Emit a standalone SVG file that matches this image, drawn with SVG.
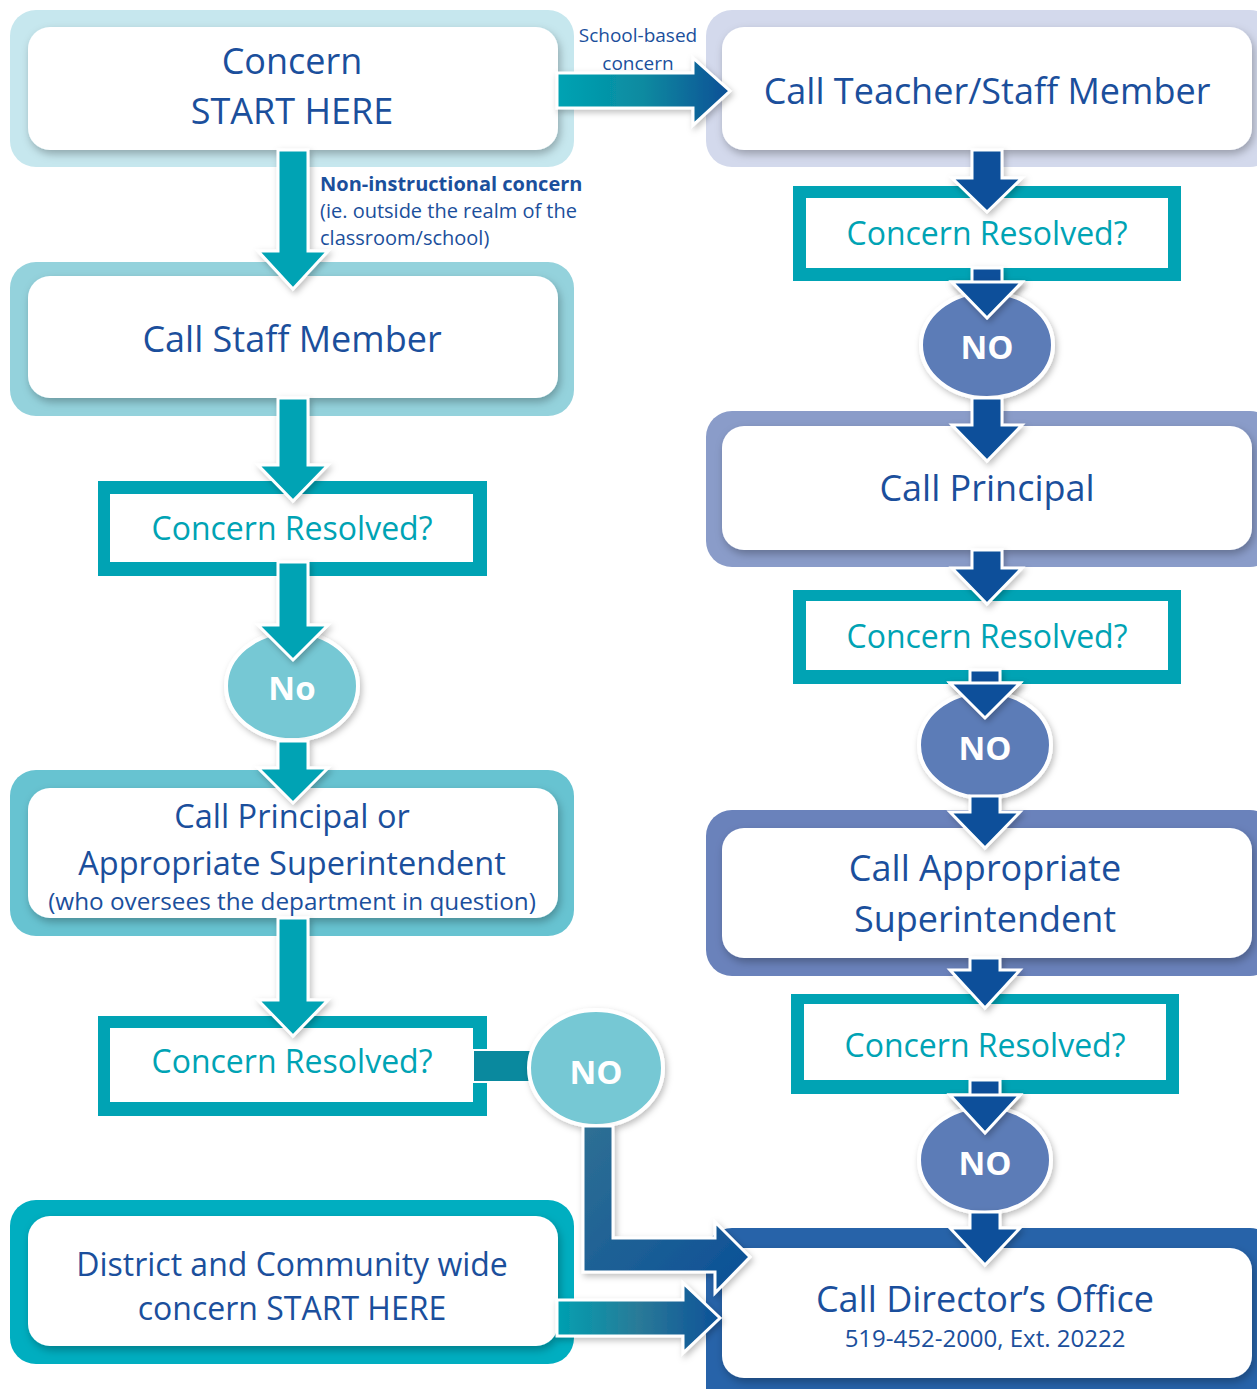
<svg xmlns="http://www.w3.org/2000/svg" width="1257" height="1389" viewBox="0 0 1257 1389">
<defs>
  <filter id="sh" x="-10%" y="-10%" width="130%" height="140%">
    <feDropShadow dx="2" dy="4" stdDeviation="4" flood-color="#000" flood-opacity="0.28"/>
  </filter>
  <filter id="sh2" x="-20%" y="-20%" width="150%" height="150%">
    <feDropShadow dx="2" dy="3" stdDeviation="3" flood-color="#000" flood-opacity="0.25"/>
  </filter>
  <linearGradient id="gTop" x1="557" y1="0" x2="730" y2="0" gradientUnits="userSpaceOnUse">
    <stop offset="0" stop-color="#00a3b3"/>
    <stop offset="0.5" stop-color="#0a8aa0"/>
    <stop offset="1" stop-color="#0b4f96"/>
  </linearGradient>
  <linearGradient id="gBot" x1="557" y1="0" x2="720" y2="0" gradientUnits="userSpaceOnUse">
    <stop offset="0" stop-color="#00a0b1"/>
    <stop offset="0.5" stop-color="#2a7a98"/>
    <stop offset="1" stop-color="#0c5198"/>
  </linearGradient>
  <linearGradient id="gElb" x1="583" y1="1125" x2="750" y2="1290" gradientUnits="userSpaceOnUse">
    <stop offset="0" stop-color="#2f7094"/>
    <stop offset="1" stop-color="#0a4f97"/>
  </linearGradient>
  <style>
    .main{font-family:"Open Sans","Noto Sans",sans-serif;font-size:36px;fill:#1b4f9c;text-anchor:middle}
    .q{font-family:"Open Sans","Noto Sans",sans-serif;font-size:32px;fill:#00a3b4;text-anchor:middle}
    .no{font-family:"Open Sans","Noto Sans",sans-serif;font-size:33px;font-weight:bold;fill:#fff;text-anchor:middle}
    .lbl{font-family:"Open Sans","Noto Sans",sans-serif;font-size:19px;fill:#1b4f9c}
    .inner{fill:#fff;filter:url(#sh)}
    .dq{fill:#00a3b4}
    .dqi{fill:#fff}
    .ell{stroke:#fff;stroke-width:4;filter:url(#sh2)}
    .arT{fill:#00a3b4;stroke:#fff;stroke-width:3;filter:url(#sh2)}
    .arB{fill:#08509a;stroke:#fff;stroke-width:3;filter:url(#sh2)}
  </style>
</defs>
<rect width="1257" height="1389" fill="#fff"/>

<g id="n_start">
  <rect x="10" y="10" width="564" height="157" rx="26" fill="#c6e7ee"/>
  <rect class="inner" x="28" y="27" width="530" height="123" rx="22"/>
  <text class="main" x="292" y="74">Concern</text>
  <text class="main" x="292" y="124">START HERE</text>
</g>

<g id="n_teacher">
  <rect x="706" y="10" width="570" height="157" rx="26" fill="#d3d9ec"/>
  <rect class="inner" x="722" y="27" width="530" height="123" rx="22"/>
  <text class="main" x="987" y="104">Call Teacher/Staff Member</text>
</g>

<g id="n_staff">
  <rect x="10" y="262" width="564" height="154" rx="26" fill="#94d2dc"/>
  <rect class="inner" x="28" y="276" width="530" height="122" rx="22"/>
  <text class="main" x="292" y="352">Call Staff Member</text>
</g>

<g id="d_left1">
  <rect class="dq" x="98" y="481" width="389" height="95"/>
  <rect class="dqi" x="110" y="494" width="363" height="68"/>
  <text class="q" x="292" y="540">Concern Resolved?</text>
</g>

<g id="no_left1">
  <ellipse class="ell" cx="292" cy="686" rx="66" ry="54" fill="#76c8d4"/>
  <text class="no" x="292" y="700">No</text>
</g>

<g id="n_principal_or_super">
  <rect x="10" y="770" width="564" height="166" rx="26" fill="#67c3d1"/>
  <rect class="inner" x="28" y="788" width="530" height="130" rx="22"/>
  <text class="main" x="292" y="828" style="font-size:32.5px">Call Principal or</text>
  <text class="main" x="292" y="875" style="font-size:32.5px">Appropriate Superintendent</text>
  <text class="main" x="292" y="910" style="font-size:24.3px">(who oversees the department in question)</text>
</g>

<g id="d_left2">
  <rect class="dq" x="98" y="1016" width="389" height="100"/>
  <rect class="dqi" x="110" y="1028" width="363" height="74"/>
  <text class="q" x="292" y="1073">Concern Resolved?</text>
</g>

<g id="n_district">
  <rect x="10" y="1200" width="564" height="164" rx="26" fill="#00aec0"/>
  <rect class="inner" x="28" y="1216" width="530" height="130" rx="22"/>
  <text class="main" x="292" y="1276" style="font-size:32px">District and Community wide</text>
  <text class="main" x="292" y="1320" style="font-size:32px">concern START HERE</text>
</g>

<g id="d_right1">
  <rect class="dq" x="793" y="186" width="388" height="95"/>
  <rect class="dqi" x="806" y="198" width="362" height="70"/>
  <text class="q" x="987" y="245">Concern Resolved?</text>
</g>

<g id="n_principal">
  <rect x="706" y="411" width="570" height="156" rx="26" fill="#8a9cc9"/>
  <rect class="inner" x="722" y="426" width="530" height="124" rx="22"/>
  <text class="main" x="987" y="501">Call Principal</text>
</g>

<g id="d_right2">
  <rect class="dq" x="793" y="590" width="388" height="94"/>
  <rect class="dqi" x="806" y="601" width="362" height="69"/>
  <text class="q" x="987" y="648">Concern Resolved?</text>
</g>

<g id="n_super">
  <rect x="706" y="810" width="570" height="166" rx="26" fill="#6a82bb"/>
  <rect class="inner" x="722" y="828" width="530" height="130" rx="22"/>
  <text class="main" x="985" y="881">Call Appropriate</text>
  <text class="main" x="985" y="932">Superintendent</text>
</g>

<g id="d_right3">
  <rect class="dq" x="791" y="994" width="388" height="100"/>
  <rect class="dqi" x="804" y="1004" width="362" height="76"/>
  <text class="q" x="985" y="1057">Concern Resolved?</text>
</g>

<g id="n_director">
  <rect x="706" y="1228" width="570" height="190" rx="26" fill="#2763a9"/>
  <rect class="inner" x="722" y="1248" width="530" height="130" rx="22"/>
  <text class="main" x="985" y="1312">Call Director’s Office</text>
  <text class="main" x="985" y="1347" style="font-size:24px">519-452-2000, Ext. 20222</text>
</g>

<g id="connectors">
  <!-- top horizontal: school-based -->
  <polygon points="557,73 693,73 693,58 730,91 693,125 693,108 557,108" fill="url(#gTop)" stroke="#fff" stroke-width="3" filter="url(#sh2)"/>
  <text class="lbl" x="638" y="42" text-anchor="middle">School-based</text>
  <text class="lbl" x="638" y="70" text-anchor="middle">concern</text>

  <!-- left column -->
  <polygon class="arT" points="278,150 308,150 308,251 328,251 293,289 258,251 278,251"/>
  <text class="lbl" x="320" y="191" style="font-weight:bold;font-size:20px">Non-instructional concern</text>
  <text class="lbl" x="320" y="218" style="font-size:20px">(ie. outside the realm of the</text>
  <text class="lbl" x="320" y="245" style="font-size:20px">classroom/school)</text>

  <polygon class="arT" points="278,398 308,398 308,465 328,465 293,501 258,465 278,465"/>
  <polygon class="arT" points="278,562 308,562 308,625 328,625 293,660 258,625 278,625"/>
  <polygon class="arT" points="278,741 308,741 308,768 328,768 293,803 258,768 278,768"/>
  <polygon class="arT" points="278,918 308,918 308,1000 328,1000 293,1036 258,1000 278,1000"/>

  <!-- decision 2 to NO -->
  <rect x="473" y="1050" width="64" height="32" fill="#0a899e" stroke="#fff" stroke-width="2"/>

  <!-- NO bottom-left -->
  <g id="no_left2">
    <ellipse class="ell" cx="596" cy="1068" rx="67" ry="58" fill="#76c8d4"/>
    <text class="no" x="596" y="1084">NO</text>
  </g>

  <!-- elbow arrow to director -->
  <polygon points="583,1126 613,1126 613,1238 715,1238 715,1222 750,1257 715,1293 715,1272 583,1272" fill="url(#gElb)" stroke="#fff" stroke-width="3" filter="url(#sh2)"/>

  <!-- district to director -->
  <polygon points="557,1300 683,1300 683,1283 720,1318 683,1353 683,1336 557,1336" fill="url(#gBot)" stroke="#fff" stroke-width="3" filter="url(#sh2)"/>

  <!-- right column -->
  <polygon class="arB" points="972,150 1002,150 1002,178 1022,178 987,212 952,178 972,178"/>
  <polygon class="arB" points="972,268 1002,268 1002,282 1022,282 987,318 952,282 972,282"/>
  <g id="no_right1">
    <ellipse class="ell" cx="987" cy="345" rx="66" ry="53" fill="#5b7bb7"/>
    <text class="no" x="987" y="359">NO</text>
  </g>
  <polygon class="arB" points="987,318 952,282 1022,282" stroke="none"/>
  <polygon class="arB" points="972,398 1002,398 1002,425 1022,425 987,461 952,425 972,425"/>
  <polygon class="arB" points="972,550 1002,550 1002,568 1022,568 987,604 952,568 972,568"/>
  <polygon class="arB" points="970,670 1000,670 1000,683 1020,683 985,718 950,683 970,683"/>
  <g id="no_right2">
    <ellipse class="ell" cx="985" cy="745" rx="66" ry="53" fill="#5b7bb7"/>
    <text class="no" x="985" y="760">NO</text>
  </g>
  <polygon class="arB" points="985,718 950,683 1020,683" stroke="none"/>
  <polygon class="arB" points="970,796 1000,796 1000,812 1020,812 985,848 950,812 970,812"/>
  <polygon class="arB" points="970,958 1000,958 1000,970 1020,970 985,1008 950,970 970,970"/>
  <polygon class="arB" points="970,1080 1000,1080 1000,1095 1020,1095 985,1133 950,1095 970,1095"/>
  <g id="no_right3">
    <ellipse class="ell" cx="985" cy="1160" rx="66" ry="53" fill="#5b7bb7"/>
    <text class="no" x="985" y="1175">NO</text>
  </g>
  <polygon class="arB" points="985,1133 950,1095 1020,1095" stroke="none"/>
  <polygon class="arB" points="970,1212 1000,1212 1000,1228 1020,1228 985,1265 950,1228 970,1228"/>
</g>
</svg>
